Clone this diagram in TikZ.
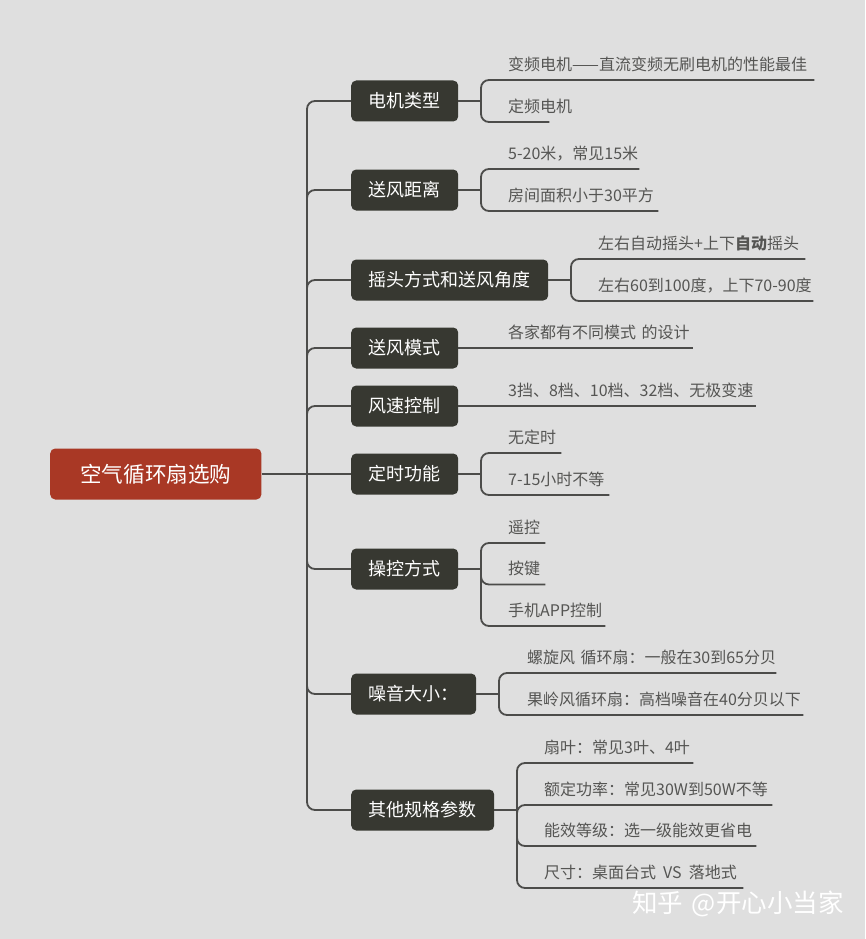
\documentclass[tikz,border=0pt]{standalone}
\usepackage{fontspec}
\setmainfont{Noto Sans CJK SC}
\usepackage{xcolor}
\definecolor{bgcolor}{HTML}{DFDFDF}
\definecolor{rootcolor}{HTML}{A93825}
\definecolor{branchcolor}{HTML}{373831}
\definecolor{linecolor}{HTML}{4C4C4A}
\definecolor{leafcolor}{HTML}{555553}
\tikzset{rootnode/.style={fill=rootcolor,text=white,rounded corners=5pt,anchor=west,minimum height=51pt,inner xsep=30pt,inner ysep=0pt,font=\fontsize{21.6pt}{24pt}\selectfont},
         branchnode/.style={fill=branchcolor,text=white,rounded corners=5pt,anchor=west,minimum height=41pt,inner xsep=17.5pt,inner ysep=0pt,font=\fontsize{18pt}{20pt}\selectfont},
         leafnode/.style={text=leafcolor,anchor=south west,align=left,inner xsep=0pt,inner ysep=0pt,text height=14pt,text depth=9.5pt,font=\fontsize{16pt}{18pt}\selectfont},
         link/.style={draw=linecolor,line width=1.8pt,rounded corners=8pt}}
\begin{document}
\begin{tikzpicture}[x=1pt,y=-1pt]
\fill[bgcolor] (0,0) rectangle (865,939);
\useasboundingbox (0,0) rectangle (865,939);
% root and spine
\node[rootnode] (root) at (50,474) {空气循环扇选购};
\coordinate (spine) at (307,474);
% branches
\node[branchnode] (motor) at (351,101) {电机类型};
\node[branchnode] (dist) at (351,190) {送风距离};
\node[branchnode] (swing) at (351,280) {摇头方式和送风角度};
\node[branchnode] (mode) at (351,348) {送风模式};
\node[branchnode] (speed) at (351,406) {风速控制};
\node[branchnode] (timer) at (351,474) {定时功能};
\node[branchnode] (ctrl) at (351,569) {操控方式};
\node[branchnode] (noise) at (351,694) {噪音大小：};
\node[branchnode] (spec) at (351,810) {其他规格参数};
\draw[link] (root.east) -- (timer.west);
\draw[link] (spine) |- (motor.west);
\draw[link] (spine) |- (dist.west);
\draw[link] (spine) |- (swing.west);
\draw[link] (spine) |- (mode.west);
\draw[link] (spine) |- (speed.west);
\draw[link] (spine) |- (ctrl.west);
\draw[link] (spine) |- (noise.west);
\draw[link] (spine) |- (spec.west);
% leaves
\node[leafnode,text width=306pt] (motora) at (508,80) {变频电机——直流变频无刷电机的性能最佳};
\node[leafnode,text width=41pt] (motorb) at (508,122) {定频电机};
\node[leafnode,text width=131pt] (dista) at (508,169) {5-20米，常见15米};
\node[leafnode,text width=150pt] (distb) at (508,211) {房间面积小于30平方};
\node[leafnode,text width=207pt] (swinga) at (598,259) {左右自动摇头+上下{\bfseries 自动}摇头};
\node[leafnode,text width=215pt] (swingb) at (598,301) {左右60到100度，上下70-90度};
\node[leafnode,text width=185pt] (modea) at (508,348) {各家都有不同模式 的设计};
\node[leafnode,text width=248pt] (speeda) at (508,406) {3挡、8档、10档、32档、无极变速};
\node[leafnode,text width=53pt] (timera) at (508,453) {无定时};
\node[leafnode,text width=101pt] (timerb) at (508,495) {7-15小时不等};
\node[leafnode,text width=37pt] (ctrla) at (508,543) {遥控};
\node[leafnode,text width=37pt] (ctrlb) at (508,584.5) {按键};
\node[leafnode,text width=97pt] (ctrlc) at (508,626) {手机APP控制};
\node[leafnode,text width=249pt] (noisea) at (527,673) {螺旋风 循环扇：一般在30到65分贝};
\node[leafnode,text width=276pt] (noiseb) at (527,715) {果岭风循环扇：高档噪音在40分贝以下};
\node[leafnode,text width=149pt] (speca) at (544,763) {扇叶：常见3叶、4叶};
\node[leafnode,text width=228pt] (specb) at (544,805) {额定功率：常见30W到50W不等};
\node[leafnode,text width=212pt] (specc) at (544,846) {能效等级：选一级能效更省电};
\node[leafnode,text width=199pt] (specd) at (544,888) {尺寸：桌面台式\hspace{7pt}VS\hspace{7pt}落地式};
% leaf brackets
\coordinate (motorj) at (481,101);
\coordinate (distj) at (481,190);
\coordinate (swingj) at (571,280);
\coordinate (timerj) at (481,474);
\coordinate (ctrlj) at (481,569);
\coordinate (noisej) at (499,694);
\coordinate (specj) at (517,810);
\draw[link] (motor.east) -- (motorj);
\draw[link] (motorj) |- (motora.south east);
\draw[link] (motorj) |- (motorb.south east);
\draw[link] (dist.east) -- (distj);
\draw[link] (distj) |- (dista.south east);
\draw[link] (distj) |- (distb.south east);
\draw[link] (swing.east) -- (swingj);
\draw[link] (swingj) |- (swinga.south east);
\draw[link] (swingj) |- (swingb.south east);
\draw[link] (mode.east) -- (modea.south east);
\draw[link] (speed.east) -- (speeda.south east);
\draw[link] (timer.east) -- (timerj);
\draw[link] (timerj) |- (timera.south east);
\draw[link] (timerj) |- (timerb.south east);
\draw[link] (ctrl.east) -- (ctrlj);
\draw[link] (ctrlj) |- (ctrla.south east);
\draw[link] (ctrlj) |- (ctrlb.south east);
\draw[link] (ctrlj) |- (ctrlc.south east);
\draw[link] (noise.east) -- (noisej);
\draw[link] (noisej) |- (noisea.south east);
\draw[link] (noisej) |- (noiseb.south east);
\draw[link] (spec.east) -- (specj);
\draw[link] (specj) |- (speca.south east);
\draw[link] (specj) |- (specb.south east);
\draw[link] (specj) |- (specc.south east);
\draw[link] (specj) |- (specd.south east);
% watermark
\node[text=white,anchor=west,inner sep=0pt,font=\fontsize{25.5pt}{28pt}\selectfont] (mark) at (632,904) {知乎\hspace{3pt} @开心小当家};
\end{tikzpicture}
\end{document}
